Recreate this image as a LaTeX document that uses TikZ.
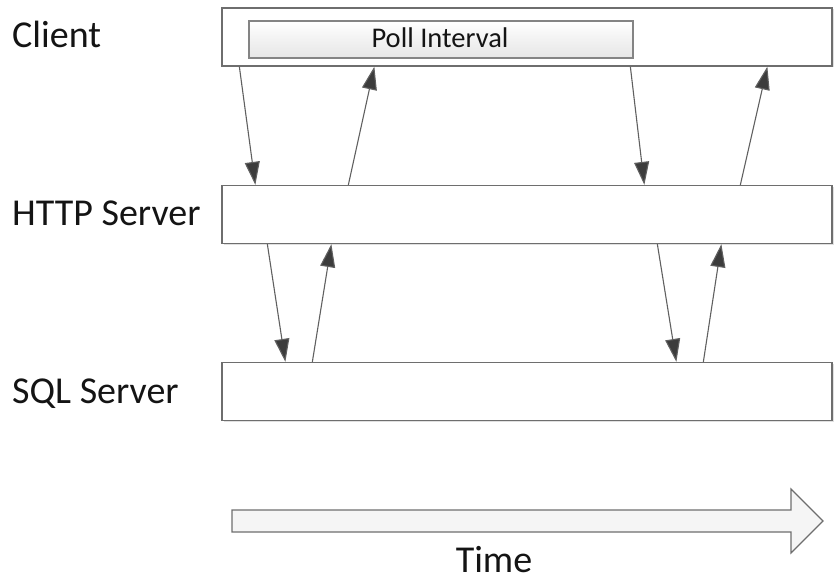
\documentclass[tikz,border=0pt]{standalone}
\usepackage{fontspec}
\setmainfont{Carlito}
\usetikzlibrary{arrows.meta,calc,shadows}
\definecolor{boxline}{HTML}{6E6E6E}
\definecolor{msgline}{HTML}{606060}
\definecolor{tipcol}{HTML}{3C3C3C}
\definecolor{pollfill}{HTML}{F2F2F2}
\definecolor{timefill}{HTML}{F5F5F5}
\definecolor{txt}{HTML}{141414}
\tikzset{
  lane/.style={draw=boxline, line width=1.3pt, fill=white, minimum width=610pt, minimum height=58pt, inner sep=0pt,
    drop shadow={shadow xshift=1.5pt, shadow yshift=-1.5pt, fill=black!12, opacity=1}},
  pollbox/.style={draw=boxline!85, line width=1.1pt, top color=white, bottom color=pollfill!80!gray!70, middle color=pollfill, minimum width=384pt, minimum height=37pt, inner sep=0pt},
  lbl/.style={font=\fontsize{38}{40}\selectfont, text=txt, anchor=base west, inner sep=0pt},
  msg/.style={draw=msgline, line width=1.1pt, -{Triangle[length=23pt,width=15pt,fill=tipcol]}, shorten >=0pt},
  timearrow/.style={draw=boxline, line width=1.2pt, fill=timefill, line join=miter},
}
\begin{document}
\begin{tikzpicture}[x=1pt,y=-1pt]
\useasboundingbox (0,0) rectangle (835,583);
% lanes
\node[lane] (client) at (527,37) {};
\node[lane] (http) at (527,214.5) {};
\node[lane] (sql) at (527,391.5) {};
\node[pollbox] (poll) at (441,39.5) {};
\node[font=\fontsize{28.5}{30}\selectfont, text=txt, anchor=base, inner sep=0pt] (polltxt) at (440,48) {Poll Interval};
% labels
\node[lbl] (lclient) at (12,48) {Client};
\node[lbl] (lhttp) at (12,225) {HTTP Server};
\node[lbl] (lsql) at (12,403) {SQL Server};
% messages client <-> http
\draw[msg] ([xshift=18pt]client.south west) -- ([xshift=34pt]http.north west);
\draw[msg] ([xshift=127pt]http.north west) -- ([xshift=153pt]client.south west);
\draw[msg] ([xshift=409pt]client.south west) -- ([xshift=423pt]http.north west);
\draw[msg] ([xshift=519pt]http.north west) -- ([xshift=546pt]client.south west);
% messages http <-> sql
\draw[msg] ([xshift=46pt]http.south west) -- ([xshift=64pt]sql.north west);
\draw[msg] ([xshift=91pt]sql.north west) -- ([xshift=110pt]http.south west);
\draw[msg] ([xshift=436pt]http.south west) -- ([xshift=455pt]sql.north west);
\draw[msg] ([xshift=482pt]sql.north west) -- ([xshift=500pt]http.south west);
% time arrow
\draw[timearrow] (232,510) -- (791,510) -- (791,489) -- (823,521) -- (791,553) -- (791,532) -- (232,532) -- cycle;
\node[font=\fontsize{38}{40}\selectfont, text=txt, anchor=base, inner sep=0pt] (time) at (494,572) {Time};
\end{tikzpicture}
\end{document}
